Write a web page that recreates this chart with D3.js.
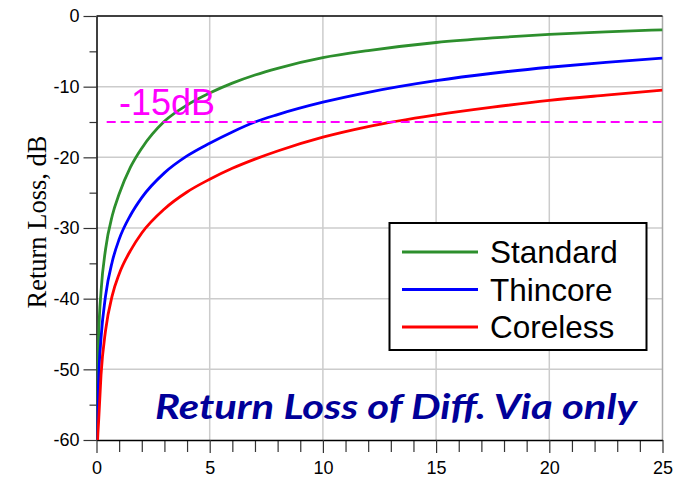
<!DOCTYPE html>
<html>
<head>
<meta charset="utf-8">
<script src="https://cdn.jsdelivr.net/npm/d3@7"></script>
<style>
  body { margin: 0; background: #fff; }
  svg { display: block; }
</style>
</head>
<body>
<div id="chart"></div>
<script>
// frequency points (x axis) and return loss, dB
var freq     = [0.01, 0.03, 0.1, 0.2, 0.4, 0.7, 1, 1.5, 2, 3, 4, 5, 6, 7, 8, 10, 12, 15, 17.5, 20, 22.5, 25];
var standard = [-66, -56, -45, -39.0, -33.0, -28.2, -25.2, -21.4, -18.7, -14.9, -12.6, -10.9, -9.5, -8.35, -7.4, -5.9, -4.9, -3.75, -3.1, -2.6, -2.25, -1.95];
var thincore = [-68, -60, -51, -45.6, -39.6, -34.7, -31.6, -28.2, -25.7, -22.2, -19.8, -18.0, -16.4, -15.0, -13.95, -12.2, -10.8, -9.15, -8.1, -7.25, -6.55, -5.95];
var coreless = [-70, -62, -57, -50.8, -44.5, -39.5, -36.5, -33.2, -30.7, -27.3, -24.9, -23.1, -21.55, -20.25, -19.1, -17.15, -15.65, -14.0, -12.9, -11.95, -11.2, -10.5];

var seriesNames  = ['Standard', 'Thincore', 'Coreless'];
var seriesColors = ['#2d8f2d', '#0000ff', '#ff0000'];

var xMajor = [0, 5, 10, 15, 20, 25];
var xMinor = [1, 2, 3, 4, 6, 7, 8, 9, 11, 12, 13, 14, 16, 17, 18, 19, 21, 22, 23, 24];
var yMajor = [0, -10, -20, -30, -40, -50, -60];
var yMinor = [-5, -15, -25, -35, -45, -55];

var limitLevel = -15;
var limitStart = 0.45;
var limitLabel = '-15dB';
var yTitle = 'Return Loss, dB';
var noteText = 'Return Loss of Diff. Via only';

var width = 682, height = 482;
var plotL = 96.5, plotR = 662.5, plotT = 16, plotB = 440;

var svg = d3.select('#chart').append('svg')
    .attr('width', width)
    .attr('height', height);

svg.append('rect').attr('width', width).attr('height', height).attr('fill', '#fff');

var x = d3.scaleLinear().domain([0, 25]).range([plotL, plotR]);
var y = d3.scaleLinear().domain([-60, 0]).range([plotB, plotT]);

var numFont = "'Liberation Sans Narrow', 'Arial Narrow', 'Liberation Sans', Arial, sans-serif";

// grid
svg.append('g').selectAll('line')
    .data(xMajor.slice(1, -1))
    .enter().append('line')
    .attr('x1', function(d) { return x(d); })
    .attr('x2', function(d) { return x(d); })
    .attr('y1', plotT).attr('y2', plotB)
    .attr('stroke', '#cccccc').attr('stroke-width', 1.5);

svg.append('g').selectAll('line')
    .data(yMajor.slice(1, -1))
    .enter().append('line')
    .attr('x1', plotL).attr('x2', plotR)
    .attr('y1', function(d) { return y(d); })
    .attr('y2', function(d) { return y(d); })
    .attr('stroke', '#cccccc').attr('stroke-width', 1.5);

// right border
svg.append('line')
    .attr('x1', plotR).attr('x2', plotR)
    .attr('y1', plotT).attr('y2', plotB)
    .attr('stroke', '#a8a8a8').attr('stroke-width', 1.5);

// top border
svg.append('line')
    .attr('x1', plotL).attr('x2', plotR)
    .attr('y1', plotT).attr('y2', plotT)
    .attr('stroke', '#000').attr('stroke-width', 1.5);

// axes
function styleAxis(g) {
    g.selectAll('path').attr('stroke', '#000').attr('stroke-width', 1.5);
    g.selectAll('line').attr('stroke', '#333').attr('stroke-width', 1.2);
    g.selectAll('text')
        .attr('font-family', numFont)
        .attr('font-size', '18px')
        .attr('fill', '#000');
}

svg.append('g')
    .attr('transform', 'translate(0,' + plotB + ')')
    .call(d3.axisBottom(x).tickValues(xMinor).tickSize(12).tickSizeOuter(0).tickFormat(''))
    .call(function(g) { g.select('.domain').remove(); })
    .call(styleAxis);

svg.append('g')
    .attr('transform', 'translate(0,' + plotB + ')')
    .call(d3.axisBottom(x).tickValues(xMajor).tickSize(13).tickSizeOuter(0).tickPadding(8)
        .tickFormat(function(d) { return String(d); }))
    .call(styleAxis);

svg.append('g')
    .attr('transform', 'translate(' + plotL + ',0)')
    .call(d3.axisLeft(y).tickValues(yMinor).tickSize(7).tickSizeOuter(0).tickFormat(''))
    .call(function(g) { g.select('.domain').remove(); })
    .call(styleAxis);

svg.append('g')
    .attr('transform', 'translate(' + plotL + ',0)')
    .call(d3.axisLeft(y).tickValues(yMajor).tickSize(13).tickSizeOuter(0).tickPadding(4)
        .tickFormat(function(d) { return String(d); }))
    .call(styleAxis);

// y title
svg.append('text')
    .attr('transform', 'translate(46,222) rotate(-90)')
    .attr('text-anchor', 'middle')
    .attr('font-family', "'Liberation Serif', 'Times New Roman', serif")
    .attr('font-size', '26.5px')
    .attr('fill', '#000')
    .text(yTitle);

// curves
svg.append('clipPath').attr('id', 'plotclip')
    .append('rect')
    .attr('x', plotL).attr('y', plotT)
    .attr('width', plotR - plotL).attr('height', plotB - plotT);

var series = [standard, thincore, coreless];
var line = d3.line()
    .x(function(d, i) { return x(freq[i]); })
    .y(function(d) { return y(d); })
    .curve(d3.curveMonotoneX);

svg.append('g').attr('clip-path', 'url(#plotclip)')
    .selectAll('path')
    .data(series)
    .enter().append('path')
    .attr('d', line)
    .attr('fill', 'none')
    .attr('stroke', function(d, i) { return seriesColors[i]; })
    .attr('stroke-width', 2.8);

// -15dB limit
svg.append('line')
    .attr('x1', x(limitStart)).attr('x2', x(25))
    .attr('y1', y(limitLevel)).attr('y2', y(limitLevel))
    .attr('stroke', '#ff00ff')
    .attr('stroke-width', 1.8)
    .attr('stroke-dasharray', '9,5');

svg.append('text')
    .attr('x', 119).attr('y', 115)
    .attr('font-family', "'Liberation Sans', Arial, sans-serif")
    .attr('font-size', '36px')
    .attr('fill', '#ff00ff')
    .text(limitLabel);

// legend
var legend = svg.append('g');
legend.append('rect')
    .attr('x', 389.5).attr('y', 223)
    .attr('width', 257).attr('height', 127)
    .attr('fill', '#fff')
    .attr('stroke', '#000')
    .attr('stroke-width', 2);

var rows = legend.selectAll('g')
    .data(seriesNames)
    .enter().append('g')
    .attr('transform', function(d, i) { return 'translate(0,' + (252 + i * 37.5) + ')'; });

rows.append('line')
    .attr('x1', 402).attr('x2', 478)
    .attr('y1', 0).attr('y2', 0)
    .attr('stroke', function(d, i) { return seriesColors[i]; })
    .attr('stroke-width', 3);

rows.append('text')
    .attr('x', 490).attr('y', 11)
    .attr('font-family', "'Liberation Sans', Arial, sans-serif")
    .attr('font-size', '31.5px')
    .attr('fill', '#000')
    .text(function(d) { return d; });

// note
svg.append('text')
    .attr('x', 155).attr('y', 419)
    .attr('font-family', "Lato, 'Open Sans', sans-serif")
    .attr('font-size', '34px')
    .attr('font-weight', 'bold')
    .attr('font-style', 'italic')
    .attr('fill', '#000099')
    .attr('textLength', 482)
    .attr('lengthAdjust', 'spacingAndGlyphs')
    .text(noteText);
</script>
</body>
</html>
